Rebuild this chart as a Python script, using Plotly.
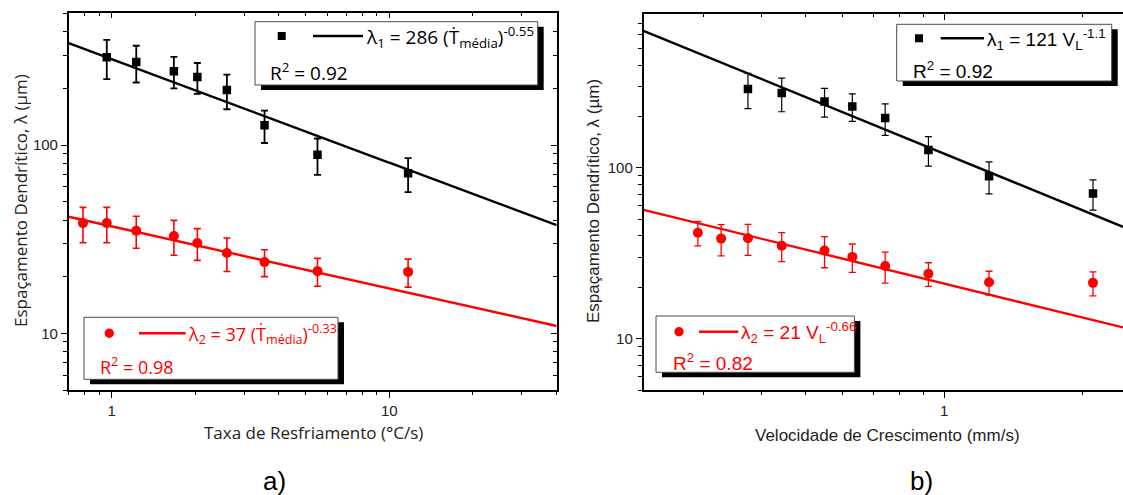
import numpy as np
import plotly.graph_objects as go

W, H = 1123, 495

# ---- panel (a): dendritic spacing vs cooling rate ----
taxa_l1 = [0.96, 1.226, 1.675, 2.035, 2.60, 3.553, 5.513, 11.69]
lambda1_a = [293, 276, 247, 230, 196, 127.6, 88.9, 70.8]
lambda1_a_err = [69, 61, 47, 43, 41, 25, 19.5, 14.5]

taxa_l2 = [0.788, 0.96, 1.226, 1.675, 2.035, 2.60, 3.553, 5.513, 11.69]
lambda2_a = [38.5, 38.5, 35.1, 32.9, 30.2, 26.7, 23.9, 21.4, 21.2]
lambda2_a_err = [8.2, 8.2, 6.8, 6.9, 5.8, 5.4, 3.9, 3.6, 3.6]

# ---- panel (b): dendritic spacing vs growth velocity ----
vel_l1 = [0.374, 0.443, 0.549, 0.631, 0.744, 0.924, 1.252, 2.108]
lambda1_b = [290, 274, 245, 229, 196, 127.4, 89.4, 70.8]
lambda1_b_err = [68, 61, 47, 42, 41, 25, 19, 14.2]

vel_l2 = [0.291, 0.327, 0.374, 0.443, 0.549, 0.631, 0.744, 0.924, 1.252, 2.108]
lambda2_b = [41.7, 38.5, 38.7, 35.0, 32.8, 30.1, 26.6, 24.0, 21.4, 21.2]
lambda2_b_err = [6.8, 8.0, 8.0, 6.8, 6.8, 5.7, 5.5, 3.8, 3.4, 3.4]

# power-law fits  lambda = k * x**n
fit_a1 = (286, -0.55)
fit_a2 = (37, -0.33)
fit_b1 = (121, -1.1)
fit_b2 = (21, -0.66)

# axis limits
x_lim_a = (0.70, 40.1)
y_lim_a = (5, 505)
x_lim_b = (0.2216, 2.45)
y_lim_b = (5, 796)

# tick positions
xa_major, xa_major_txt = [1, 10], ["1", "10"]
xa_minor = [0.7, 0.8, 0.9, 2, 3, 4, 5, 6, 7, 8, 9, 20, 30, 40]
xb_major, xb_major_txt = [1], ["1"]
xb_minor = [0.3, 0.4, 0.5, 0.6, 0.7, 0.8, 0.9, 2]
y_major, y_major_txt = [10, 100], ["10", "100"]
y_minor = [5, 6, 7, 8, 9, 20, 30, 40, 50, 60, 70, 80, 90, 200, 300, 400, 500, 600, 700]

RED = "#ff0000"
BLACK = "#000000"
FONT_A = "Open Sans"
FONT_B = "Arial, Liberation Sans"


def px(x):
    return x / W


def py(y):
    return 1 - y / H


def fit_curve(lim, k, n):
    xs = np.geomspace(lim[0], lim[1], 200)
    return xs, k * xs ** n


fig = go.Figure()

# fit lines
for lim, fit, col, xa_id, ya_id in [
    (x_lim_a, fit_a1, BLACK, "x", "y"),
    (x_lim_a, fit_a2, RED, "x", "y"),
    (x_lim_b, fit_b1, BLACK, "x2", "y2"),
    (x_lim_b, fit_b2, RED, "x2", "y2"),
]:
    xs, ys = fit_curve(lim, *fit)
    fig.add_trace(go.Scatter(x=xs, y=ys, mode="lines", line=dict(color=col, width=2.4),
                             xaxis=xa_id, yaxis=ya_id, showlegend=False, hoverinfo="skip"))

# measured points with error bars
series = [
    (taxa_l1, lambda1_a, lambda1_a_err, "square", BLACK, 8.5, 1.8, 3.5, "x", "y"),
    (taxa_l2, lambda2_a, lambda2_a_err, "circle", RED, 10, 1.6, 3.5, "x", "y"),
    (vel_l1, lambda1_b, lambda1_b_err, "square", BLACK, 8.5, 1.2, 3.5, "x2", "y2"),
    (vel_l2, lambda2_b, lambda2_b_err, "circle", RED, 10, 1.3, 3.5, "x2", "y2"),
]
for xv, yv, ev, sym, col, size, ew, cap, xa_id, ya_id in series:
    fig.add_trace(go.Scatter(
        x=xv, y=yv, mode="markers",
        marker=dict(symbol=sym, size=size, color=col, line=dict(width=0)),
        error_y=dict(type="data", array=ev, visible=True, color=col, thickness=ew, width=cap),
        xaxis=xa_id, yaxis=ya_id, showlegend=False))

# invisible helpers so the mirrored frame axes (top / right) get drawn
for xlim, ylim, xa_id, ya_id in [
    (x_lim_a, y_lim_a, "x3", "y"),
    (x_lim_a, y_lim_a, "x", "y3"),
    (x_lim_b, y_lim_b, "x4", "y2"),
]:
    fig.add_trace(go.Scatter(x=list(xlim), y=list(ylim), mode="markers",
                             marker=dict(opacity=0, size=1), xaxis=xa_id, yaxis=ya_id,
                             showlegend=False, hoverinfo="skip"))


def log_axis(lim, major, major_txt, minor, font, **kw):
    d = dict(
        type="log", range=[np.log10(lim[0]), np.log10(lim[1])], autorange=False,
        showline=True, linecolor="black", linewidth=1.5,
        ticks="outside", ticklen=6, tickwidth=1.3, tickcolor="black",
        tickmode="array", tickvals=major, ticktext=major_txt,
        minor=dict(tickmode="array", tickvals=minor, ticks="outside", ticklen=3.5,
                   tickwidth=1.1, tickcolor="black", showgrid=False),
        showgrid=False, zeroline=False,
        tickfont=dict(family=font, size=15, color="#222"),
    )
    d.update(kw)
    return d


def mirror_axis(base, side, over, anchor):
    d = dict(base)
    d.pop("domain", None)
    d.update(side=side, overlaying=over, anchor=anchor, ticks="inside", showticklabels=False,
             minor=dict(base["minor"], ticks="inside"))
    return d


dom_xa = [px(68.7), px(556.7)]
dom_ya = [py(390), py(12.7)]
dom_xb = [px(643.5), 1.0]
dom_yb = [py(390), py(14)]

xa = log_axis(x_lim_a, xa_major, xa_major_txt, xa_minor, FONT_B, domain=dom_xa, anchor="y")
ya = log_axis(y_lim_a, y_major, y_major_txt, y_minor, FONT_B, domain=dom_ya, anchor="x")
xb = log_axis(x_lim_b, xb_major, xb_major_txt, xb_minor, FONT_B, domain=dom_xb, anchor="y2")
yb = log_axis(y_lim_b, y_major, y_major_txt, y_minor, FONT_B, domain=dom_yb, anchor="x2")

fig.update_layout(
    xaxis=xa, yaxis=ya, xaxis2=xb, yaxis2=yb,
    xaxis3=mirror_axis(xa, "top", "x", "y"),
    yaxis3=mirror_axis(ya, "right", "y", "x"),
    xaxis4=mirror_axis(xb, "top", "x2", "y2"),
)

shapes = []
annotations = []


def legend_box(x0, y0, x1, y1, mark, mx, my, lx0, lx1, col, eq, eq_x, r2, r2_x, r2_y, font, fs):
    shapes.append(dict(type="rect", xref="paper", yref="paper",
                       x0=px(x0 + 6), x1=px(x1 + 6), y0=py(y1 + 5), y1=py(y0 + 5),
                       fillcolor="black", line=dict(width=0)))
    shapes.append(dict(type="rect", xref="paper", yref="paper",
                       x0=px(x0), x1=px(x1), y0=py(y1), y1=py(y0),
                       fillcolor="white", line=dict(color="#4a4a4a", width=1)))
    r = 4 if mark == "square" else 4.7
    shapes.append(dict(type="rect" if mark == "square" else "circle", xref="paper", yref="paper",
                       x0=px(mx - r), x1=px(mx + r), y0=py(my + r), y1=py(my - r),
                       fillcolor=col, line=dict(width=0)))
    shapes.append(dict(type="line", xref="paper", yref="paper",
                       x0=px(lx0), x1=px(lx1), y0=py(my), y1=py(my),
                       line=dict(color=col, width=2.4)))
    annotations.append(dict(text=eq, x=px(eq_x), y=py(my + 1), xref="paper", yref="paper",
                            xanchor="left", yanchor="middle", showarrow=False,
                            font=dict(family=font, size=fs, color=col)))
    annotations.append(dict(text=r2, x=px(r2_x), y=py(r2_y), xref="paper", yref="paper",
                            xanchor="left", yanchor="middle", showarrow=False,
                            font=dict(family=font, size=fs, color=col)))


legend_box(255, 21.7, 537.7, 85, "square", 281.7, 36, 313, 363, BLACK,
           "λ<sub>1</sub> = 286 (Ṫ<sub>média</sub>)<sup>-0.55</sup>", 364,
           "R<sup>2</sup> = 0.92", 268, 72, FONT_A, 19)
legend_box(84, 317.3, 338, 379.3, "circle", 109.3, 333.3, 139, 185.7, RED,
           "λ<sub>2</sub> = 37 (Ṫ<sub>média</sub>)<sup>-0.33</sup>", 186,
           "R<sup>2</sup> = 0.98", 98, 366, FONT_A, 18)
legend_box(896.7, 24.3, 1111.7, 81, "square", 919, 38.3, 940.7, 984, BLACK,
           "λ<sub>1</sub> = 121 V<sub>L</sub><sup>-1.1</sup>", 985,
           "R<sup>2</sup> = 0.92", 911, 70, FONT_B, 19)
legend_box(656, 316, 854.4, 372.3, "circle", 679, 331.7, 699, 738.3, RED,
           "λ<sub>2</sub> = 21 V<sub>L</sub><sup>-0.66</sup>", 739,
           "R<sup>2</sup> = 0.82", 671, 362, FONT_B, 19)


def label(text, x, y, font, size, angle=0, color="#222"):
    annotations.append(dict(text=text, x=px(x), y=py(y), xref="paper", yref="paper",
                            xanchor="center", yanchor="middle", textangle=angle,
                            showarrow=False, font=dict(family=font, size=size, color=color)))


# axis titles and panel letters
label("Taxa de Resfriamento (°C/s)", 313, 432, FONT_A, 17)
label("Espaçamento Dendrítico, λ (µm)", 21, 201, FONT_A, 17, angle=-90)
label("Velocidade de Crescimento (mm/s)", 887, 435, FONT_B, 17)
label("Espaçamento Dendrítico, λ (µm)", 594, 201, FONT_B, 17, angle=-90)
label("a)", 274, 481, FONT_B, 26, color="black")
label("b)", 921, 481, FONT_B, 26, color="black")

fig.update_layout(
    width=W, height=H, margin=dict(l=0, r=0, t=0, b=0),
    paper_bgcolor="white", plot_bgcolor="white",
    shapes=shapes, annotations=annotations, showlegend=False,
)

fig.write_html("out.html")
